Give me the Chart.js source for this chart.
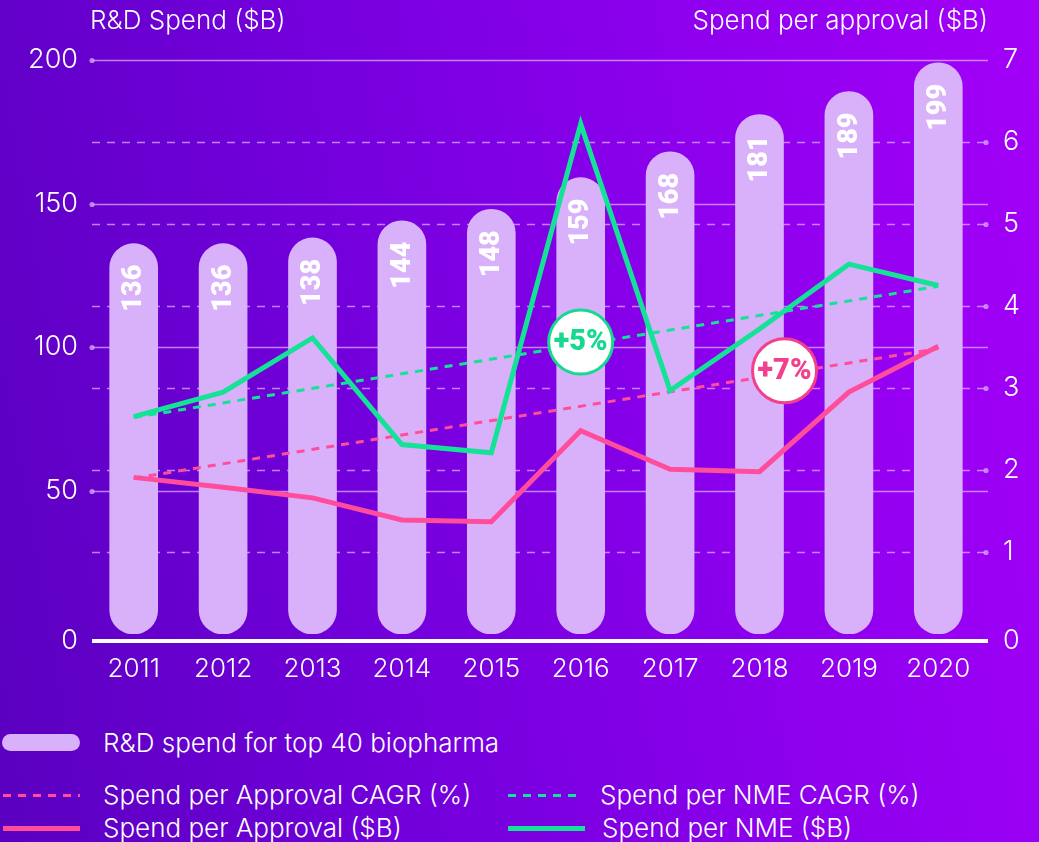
<!DOCTYPE html>
<html><head><meta charset="utf-8">
<script src="https://cdn.jsdelivr.net/npm/chart.js@4.4.1/dist/chart.umd.min.js"></script>
<style>
html,body{margin:0;padding:0;width:1039px;height:842px;overflow:hidden;}
body{background:linear-gradient(80deg,#5a00bf 0%,#7200db 35%,#8e00ee 70%,#a300f8 100%);font-family:Inter,"Noto Sans",sans-serif;font-weight:300;color:#fff;position:relative;}
#c{position:absolute;left:0;top:0;}
.lt{position:absolute;font-size:26px;line-height:30px;height:30px;white-space:nowrap;color:#fff;}
.sw{position:absolute;}
</style></head>
<body>
<canvas id="c" width="1039" height="700"></canvas>
<div class="sw" style="left:2px;top:734px;width:78px;height:17px;border-radius:9px;background:#d9b1fb;"></div>
<div class="lt" style="left:103px;top:728px;">R&amp;D spend for top 40 biopharma</div>
<div class="sw" style="left:3px;top:794px;width:77px;height:3px;background:repeating-linear-gradient(to right,#ff4d9c 0 8px,transparent 8px 15px);"></div>
<div class="lt" style="left:103px;top:780px;">Spend per Approval CAGR (%)</div>
<div class="sw" style="left:508px;top:794px;width:73px;height:3px;background:repeating-linear-gradient(to right,#14e296 0 8px,transparent 8px 15px);"></div>
<div class="lt" style="left:600px;top:780px;">Spend per NME CAGR (%)</div>
<div class="sw" style="left:3px;top:826px;width:77px;height:5px;background:#ff4d9c;"></div>
<div class="lt" style="left:103px;top:813px;">Spend per Approval ($B)</div>
<div class="sw" style="left:508px;top:826px;width:77px;height:5px;background:#14e296;"></div>
<div class="lt" style="left:602px;top:813px;">Spend per NME ($B)</div>
<script>
const years = ['2011','2012','2013','2014','2015','2016','2017','2018','2019','2020'];
const rdSpend = [136,136,138,144,148,159,168,181,189,199];
const spendPerApproval = [1.91,1.79,1.66,1.39,1.37,2.48,2.01,1.98,2.95,3.51];
const spendPerNME = [2.65,2.95,3.61,2.31,2.21,6.22,2.97,3.72,4.51,4.25];
const approvalCAGR = [1.90,null,null,null,null,null,null,null,null,3.48];
const nmeCAGR = [2.64,null,null,null,null,null,null,null,null,4.24];
const leftTicks = [0,50,100,150,200];
const rightTicks = [0,1,2,3,4,5,6,7];
const leftTitle = 'R&D Spend ($B)';
const rightTitle = 'Spend per approval ($B)';
const badges = [
  {text:'+5%', xIndex:5.0, yValue:3.56, color:'#14d98f'},
  {text:'+7%', xIndex:7.28, yValue:3.21, color:'#f2408d'}
];

const GREEN = '#14e296', PINK = '#ff4d9c', BAR = '#d9b1fb';
const GRID = 'rgba(214,160,252,0.8)';
const FONT = 'Inter, "Noto Sans", sans-serif';

const deco = {
  id:'deco',
  beforeDatasetsDraw(chart){
    const {ctx, chartArea:a, scales} = chart;
    const yL = scales.yL, yR = scales.yR;
    ctx.save();
    ctx.strokeStyle = GRID; ctx.fillStyle = GRID; ctx.lineWidth = 1.3;
    ctx.setLineDash([8,7]);
    rightTicks.forEach(v=>{
      if(v===0||v===7) return;
      const y = Math.round(yR.getPixelForValue(v))+0.5;
      ctx.beginPath(); ctx.moveTo(92,y); ctx.lineTo(986,y); ctx.stroke();
    });
    ctx.setLineDash([]);
    rightTicks.forEach(v=>{
      if(v===0||v===7) return;
      const y = Math.round(yR.getPixelForValue(v))+0.5;
      ctx.beginPath(); ctx.arc(986,y,2.6,0,Math.PI*2); ctx.fill();
    });
    leftTicks.forEach(v=>{
      if(v===0) return;
      const y = Math.round(yL.getPixelForValue(v))+0.5;
      ctx.beginPath(); ctx.moveTo(92,y); ctx.lineTo(988,y); ctx.stroke();
      ctx.beginPath(); ctx.arc(92,y,2.6,0,Math.PI*2); ctx.fill();
    });
    const by = a.bottom + 7;
    ctx.strokeStyle = '#fff'; ctx.lineWidth = 4;
    ctx.beginPath(); ctx.moveTo(92,by); ctx.lineTo(988,by); ctx.stroke();
    ctx.fillStyle = '#fff';
    ctx.font = '300 27px ' + FONT;
    ctx.textBaseline = 'middle';
    ctx.textAlign = 'right'; ctx.fillText('0', 78, by);
    ctx.textAlign = 'left'; ctx.fillText('0', 1003, by);
    ctx.font = '300 26px ' + FONT;
    ctx.textAlign = 'left'; ctx.fillText(leftTitle, 90, 21);
    ctx.textAlign = 'right'; ctx.fillText(rightTitle, 988, 21);
    ctx.restore();
  },
  afterDatasetDraw(chart, args){
    if(args.index !== 0) return;
    const {ctx} = chart;
    const meta = chart.getDatasetMeta(0);
    ctx.save();
    ctx.fillStyle = '#fff';
    ctx.font = '900 27px Roboto, ' + FONT;
    ctx.textAlign = 'right'; ctx.textBaseline = 'middle';
    meta.data.forEach((bar,i)=>{
      ctx.save();
      ctx.translate(bar.x+1, bar.y + 21);
      ctx.rotate(-Math.PI/2);
      ctx.fillText(String(rdSpend[i]), 0, 0);
      ctx.restore();
    });
    ctx.restore();
  },
  afterDatasetsDraw(chart){
    const {ctx, scales} = chart;
    ctx.save();
    badges.forEach(b=>{
      const x = scales.x.getPixelForValue(b.xIndex);
      const y = scales.yR.getPixelForValue(b.yValue);
      ctx.beginPath(); ctx.arc(x,y,32,0,Math.PI*2);
      ctx.fillStyle = '#fff'; ctx.fill();
      ctx.lineWidth = 3; ctx.strokeStyle = b.color; ctx.stroke();
      ctx.fillStyle = b.color;
      ctx.font = '900 29px Roboto, ' + FONT;
      ctx.textAlign = 'center'; ctx.textBaseline = 'middle';
      ctx.fillText(b.text, x, y+1);
    });
    ctx.restore();
  }
};

new Chart(document.getElementById('c'), {
  data:{
    labels: years,
    datasets:[
      {type:'bar', label:'R&D spend for top 40 biopharma', data:rdSpend, yAxisID:'yL',
       backgroundColor:BAR, borderRadius:24, borderSkipped:false, barThickness:48, order:10},
      {type:'line', label:'Spend per Approval CAGR (%)', data:approvalCAGR, yAxisID:'yR',
       borderColor:PINK, borderWidth:3, borderDash:[8,7], pointRadius:0, spanGaps:true, tension:0, order:3},
      {type:'line', label:'Spend per NME CAGR (%)', data:nmeCAGR, yAxisID:'yR',
       borderColor:GREEN, borderWidth:3, borderDash:[8,7], pointRadius:0, spanGaps:true, tension:0, order:3},
      {type:'line', label:'Spend per Approval ($B)', data:spendPerApproval, yAxisID:'yR',
       borderColor:PINK, borderWidth:5, pointRadius:0, tension:0, order:1},
      {type:'line', label:'Spend per NME ($B)', data:spendPerNME, yAxisID:'yR',
       borderColor:GREEN, borderWidth:5, pointRadius:0, tension:0, order:1}
    ]
  },
  options:{
    responsive:false, animation:false,
    layout:{padding:{top:60,left:0,right:0,bottom:0}},
    plugins:{legend:{display:false}, tooltip:{enabled:false}},
    scales:{
      x:{
        grid:{display:false, drawTicks:false}, border:{display:false},
        ticks:{color:'#fff', font:{family:FONT, size:26, weight:300}, padding:20, maxRotation:0},
        afterFit(s){ s.height = 66; }
      },
      yL:{
        position:'left', min:0, max:200,
        afterBuildTicks(s){ s.ticks = leftTicks.map(v=>({value:v})); },
        grid:{display:false, drawTicks:false}, border:{display:false},
        ticks:{color:'#fff', font:{family:FONT, size:27, weight:300}, padding:11,
               callback:v=> v===0 ? '' : String(v)},
        afterFit(s){ s.width = 89; }
      },
      yR:{
        position:'right', min:0, max:7,
        afterBuildTicks(s){ s.ticks = rightTicks.map(v=>({value:v})); },
        grid:{display:false, drawTicks:false}, border:{display:false},
        ticks:{color:'#fff', font:{family:FONT, size:27, weight:300}, padding:20,
               callback:v=> v===0 ? '' : String(v)},
        afterFit(s){ s.width = 56; }
      }
    }
  },
  plugins:[deco]
});
</script>
</body></html>
